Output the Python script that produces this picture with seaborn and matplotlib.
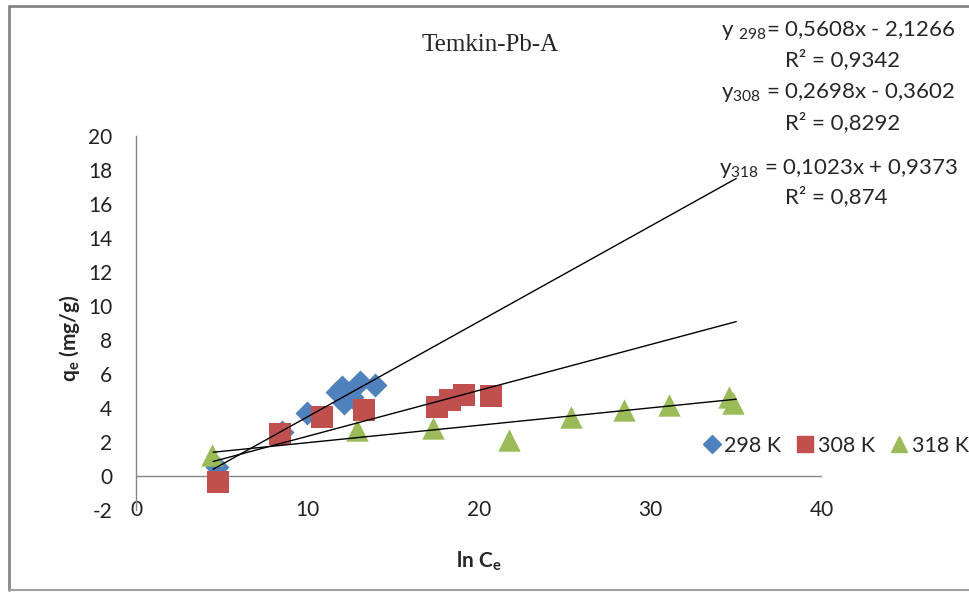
import matplotlib
matplotlib.use("Agg")
import matplotlib.pyplot as plt
from matplotlib.lines import Line2D
import numpy as np
import pandas as pd
import seaborn as sns

# data
x_298 = [4.73, 8.5, 9.95, 11.7, 12.0, 12.1, 12.6, 13.06, 13.94]
y_298 = [0.55, 2.6, 3.69, 4.96, 5.25, 4.27, 4.67, 5.55, 5.35]
x_308 = [4.8, 8.4, 10.87, 13.3, 17.57, 18.3, 19.1, 20.7]
y_308 = [-0.33, 2.47, 3.49, 3.88, 4.04, 4.47, 4.76, 4.72]
x_318 = [4.41, 12.87, 17.34, 21.75, 25.35, 28.47, 31.1, 34.6, 34.8]
y_318 = [1.24, 2.7, 2.8, 2.1, 3.5, 3.9, 4.2, 4.66, 4.27]

series = ["298 K", "308 K", "318 K"]
slopes = [0.5608, 0.2698, 0.1023]
intercepts = [-2.1266, -0.3602, 0.9373]
trend_range = [4.5, 35.0]

equations = ["y $_{298}$= 0,5608x - 2,1266", "R² = 0,9342",
             "y$_{308}$ = 0,2698x - 0,3602", "R² = 0,8292",
             "y$_{318}$ = 0,1023x + 0,9373", "R² = 0,874"]

colors = ["#4F81BD", "#C0504D", "#9BBB59"]
markers = ["D", "s", "^"]
sizes = [150, 230, 260]

sns.set_style("white")
plt.rcParams["font.family"] = ["Lato", "DejaVu Sans"]
plt.rcParams["mathtext.fontset"] = "custom"
plt.rcParams["mathtext.rm"] = "Lato"
plt.rcParams["mathtext.bf"] = "Lato:bold"
plt.rcParams["mathtext.default"] = "rm"
plt.rcParams["axes.unicode_minus"] = False

fig = plt.figure(figsize=(9.69, 5.92), dpi=100)
ax = fig.add_axes([136 / 969, 1 - 510 / 592, 686 / 969, 374 / 592])

df = pd.concat([
    pd.DataFrame({"x": x_298, "y": y_298, "T": series[0]}),
    pd.DataFrame({"x": x_308, "y": y_308, "T": series[1]}),
    pd.DataFrame({"x": x_318, "y": y_318, "T": series[2]}),
])

for i, name in enumerate(series):
    sub = df[df["T"] == name]
    sns.scatterplot(data=sub, x="x", y="y", ax=ax, marker=markers[i],
                    color=colors[i], s=sizes[i], linewidth=0, legend=False,
                    zorder=3)

# trendlines from the fitted equations
for i in range(3):
    xs = np.array(trend_range)
    ax.plot(xs, slopes[i] * xs + intercepts[i], color="black", lw=1.0, zorder=4)

ax.set_xlim(0, 40)
ax.set_ylim(-2, 20)
ax.set_yticks(range(-2, 21, 2))
ax.set_xticks(range(0, 41, 10))
for s in ["top", "right", "bottom"]:
    ax.spines[s].set_visible(False)
ax.spines["left"].set_color("#868686")
ax.spines["left"].set_linewidth(1.0)
ax.axhline(0, color="#868686", lw=1.0, zorder=1)
ax.tick_params(axis="both", labelsize=15, length=0, colors="#222222")
ax.tick_params(axis="y", pad=17)
ax.tick_params(axis="x", pad=-7)
ax.set_xlabel("ln C$_\\mathbf{e}$", fontsize=15, fontweight="bold")
ax.set_ylabel("q$_\\mathbf{e}$ (mg/g)", fontsize=15, fontweight="bold")
ax.xaxis.set_label_coords(0.5, -0.105)
ax.yaxis.set_label_coords(-0.078, 0.46)

fig.text(490 / 969, 1 - 45 / 592, "Temkin-Pb-A", fontsize=18,
         family="Liberation Serif", ha="center", va="center")

eq_y = [30, 60, 93, 123, 168, 197]
eq_x = [838, 843, 838, 843, 838, 836]
for t, px, py in zip(equations, eq_x, eq_y):
    fig.text(px / 969, 1 - py / 592, t, fontsize=16, ha="center", va="center")

handles = [Line2D([], [], marker=markers[i], color=colors[i], ls="",
                  markersize=[9, 11, 12][i]) for i in range(3)]
fig.legend(handles, series, loc="center left",
           bbox_to_anchor=(690 / 969, 1 - 446 / 592), ncol=3, frameon=False,
           fontsize=15.5, handletextpad=0.0, columnspacing=0.5,
           handlelength=1.2, borderaxespad=0)

# outer chart frame
fig.add_artist(Line2D([8.5 / 969, 8.5 / 969], [1 - 6 / 592, 1 - 590 / 592],
                      color="#868686", lw=2, transform=fig.transFigure))
fig.add_artist(Line2D([8.5 / 969, 1], [1 - 6 / 592, 1 - 6 / 592],
                      color="#868686", lw=2, transform=fig.transFigure))
fig.add_artist(Line2D([8.5 / 969, 1], [1 - 590 / 592, 1 - 590 / 592],
                      color="#a0a0a0", lw=1.5, transform=fig.transFigure))

fig.savefig("out.png", dpi=100)
